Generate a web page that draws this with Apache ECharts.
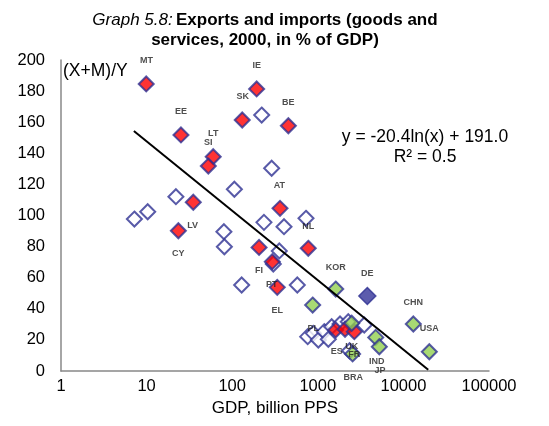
<!DOCTYPE html>
<html>
<head>
<meta charset="utf-8">
<script src="https://cdn.jsdelivr.net/npm/echarts@6/dist/echarts.min.js"></script>
<style>html,body{margin:0;padding:0;background:#fff}#c{width:549px;height:426px}</style>
</head>
<body>
<div id="c"></div>
<script>
// Data (GDP billion PPS, (X+M)/Y in % of GDP)
const hollowPts = [
  [221,164.6],[289,130.4],[106,116.9],[22,112.1],[10.3,102.4],[7.2,97.7],
  [80,89.6],[81,79.9],[235,95.6],[403,92.8],[728,98.2],[355,77.2],[302,68.8],
  [576,55.3],[129,55.3],[762,22.1],[887,24.2],[1014,19.9],[1191,25.3],[1327,20.4],
  [1452,28.5],[1818,30.2],[2270,31.7],[3490,29.6],[2350,13]
];
const redPts = [
  [9.9,184.6],[193,181.4],[131,161.4],[453,157.7],[25.2,151.8],[60,137.8],[52.6,131.8],
  [35.1,108.5],[23.5,90.2],[362,104.6],[206,79.5],[774,78.9],[294,70.3],[336,53.8],
  [1619,26.4],[2080,26.8],[2670,25.3]
];
const greenPts = [
  [871,42.4],[1619,52.7],[2490,30.7],[4750,21.6],[5230,15.6],[2550,11],[13060,30.2],[20080,12.4]
];
const navyPts = [[3790,48.2]];
const labelNames = ['MT','IE','SK','BE','EE','LT','SI','AT','LV','CY','NL','FI','PT','EL','KOR','DE','CHN','USA','PL','ES','UK','FR','IND','JP','BRA'];
const labelX = [10,193,133,453,25.2,60,52.6,355,34.5,23.5,774,206,289,336,1619,3790,13060,20080,887,1663,2490,2670,4880,5330,2600];
const labelY = [199.4,196.3,176.4,172.5,166.8,152.8,146.8,119.2,93.4,75.7,93.2,64.5,55.3,38.8,66.7,62.4,43.9,27,27.4,12.4,15.6,10.3,6,0.2,-4];
const trendX = [7.1, 19500];
const trendY = [154.3, 0.8];
const xTicks = [1,10,100,1000,10000,100000];
const yTicks = [0,20,40,60,80,100,120,140,160,180,200];

const labelData = labelNames.map((n,i)=>({value:[labelX[i],labelY[i]],name:n}));
const navy = '#2E3192';
const font = 'Liberation Sans, Arial, sans-serif';

const chart = echarts.init(document.getElementById('c'), null, {renderer:'canvas'});
chart.setOption({
  animation:false,
  backgroundColor:'#fff',
  grid:{left:61,right:60,top:60,bottom:55,containLabel:false},
  xAxis:{
    type:'log', logBase:10, min:xTicks[0], max:xTicks[xTicks.length-1],
    axisLine:{show:true,lineStyle:{color:'#888',width:1.5}},
    axisTick:{show:false}, splitLine:{show:false}, minorTick:{show:false},
    axisLabel:{color:'#000',fontSize:16.5,fontFamily:font,margin:7,formatter:v=>String(Math.round(v))},
    name:'GDP, billion PPS', nameLocation:'middle', nameGap:29,
    nameTextStyle:{color:'#000',fontSize:17,fontFamily:font}
  },
  yAxis:{
    type:'value', min:yTicks[0], max:yTicks[yTicks.length-1], interval:20,
    axisLine:{show:true,lineStyle:{color:'#888',width:1.5}},
    axisTick:{show:false}, splitLine:{show:false},
    axisLabel:{color:'#000',fontSize:16.5,fontFamily:font,margin:16}
  },
  graphic:[
    {type:'text',left:63,top:62,style:{text:'(X+M)/Y',fontSize:17.5,fontFamily:font,fill:'#000'}},
    {type:'text',x:265,y:10,style:{
      text:'{i|Graph 5.8:} {b|Exports and imports (goods and}\n{b|services, 2000, in % of GDP)}',
      align:'center',lineHeight:20,
      rich:{i:{fontStyle:'italic',fontSize:17,fontFamily:font,fill:'#000',lineHeight:20},b:{fontWeight:'bold',fontSize:17,fontFamily:font,fill:'#000',lineHeight:20}}
    }},
    {type:'text',x:425,y:127,style:{text:'y = -20.4ln(x) + 191.0\nR² = 0.5',align:'center',fontSize:17.5,lineHeight:20,fontFamily:font,fill:'#000'}}
  ],
  series:[
    {type:'scatter',symbol:'diamond',symbolSize:15,z:2,
     itemStyle:{color:'#fff',borderColor:navy,borderWidth:2},
     data:hollowPts},
    {type:'scatter',symbol:'diamond',symbolSize:15,z:3,
     itemStyle:{color:'#FF0000',borderColor:navy,borderWidth:2},
     data:redPts},
    {type:'scatter',symbol:'diamond',symbolSize:15,z:3,
     itemStyle:{color:'#92D050',borderColor:navy,borderWidth:2},
     data:greenPts},
    {type:'scatter',symbol:'diamond',symbolSize:17,z:3,
     itemStyle:{color:'#333399',borderColor:navy,borderWidth:1.5},
     data:navyPts},
    {type:'line',z:4,symbol:'none',lineStyle:{color:'#000',width:2},
     data:trendX.map((x,i)=>[x,trendY[i]])},
    {type:'scatter',symbolSize:0,z:5,clip:false,silent:true,
     label:{show:true,position:'inside',formatter:'{b}',color:'#222',fontWeight:'bold',fontSize:9,fontFamily:font},
     data:labelData}
  ]
});
</script>
</body>
</html>
